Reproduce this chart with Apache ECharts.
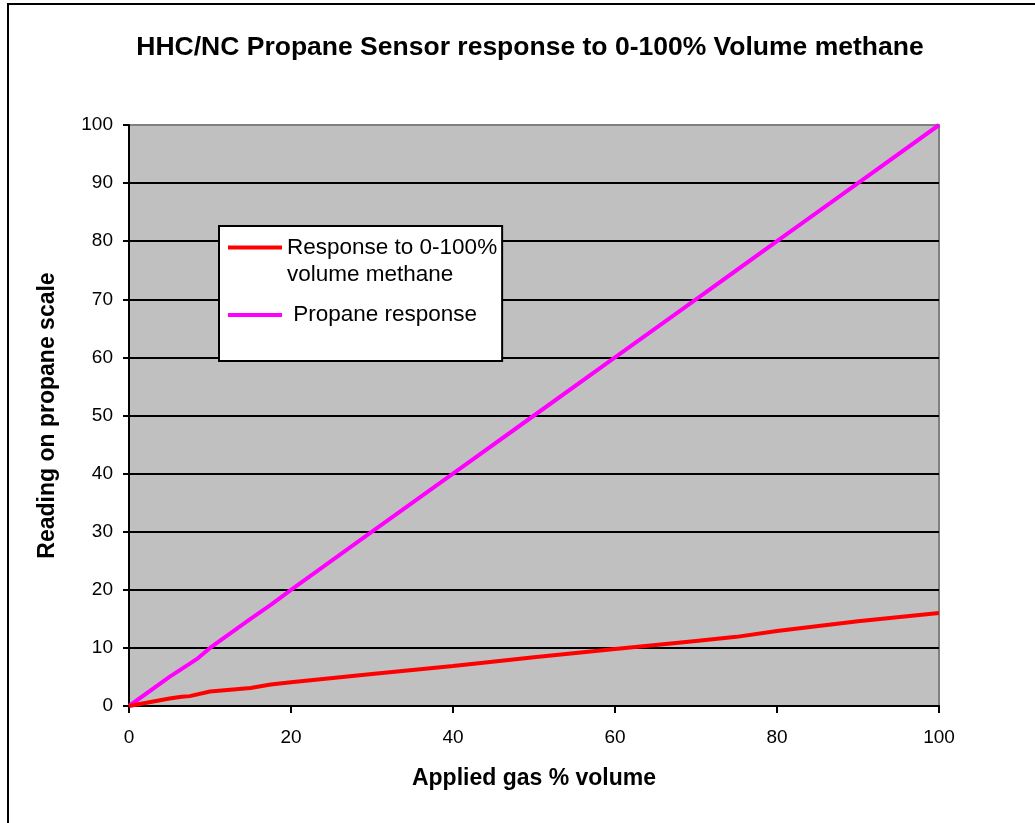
<!DOCTYPE html>
<html>
<head>
<meta charset="utf-8">
<script src="https://cdn.jsdelivr.net/npm/echarts@6/dist/echarts.min.js"></script>
<style>
  html, body { margin: 0; padding: 0; background: #fff; overflow: hidden; width: 1035px; height: 823px; }
  #frame {
    position: absolute; left: 7px; top: 3px; width: 1100px; height: 900px;
    border: 2px solid #000; box-sizing: border-box;
  }
  #chart { position: absolute; left: 0; top: 0; width: 1035px; height: 823px; }
</style>
</head>
<body>
<div id="frame"></div>
<div id="chart"></div>
<script>
// applied gas % volume (x) and readings on the propane scale (y)
const methaneX = [0, 5, 6.5, 7.5, 10, 15, 17.5, 20, 30, 40, 50, 60, 70, 75, 80, 90, 100];
const methaneY = [0, 1.3, 1.6, 1.7, 2.5, 3.1, 3.7, 4.1, 5.5, 6.9, 8.4, 9.8, 11.2, 11.9, 12.9, 14.6, 16.0];
const propaneX = [0, 5, 8.5, 10, 15, 17.5, 20, 30, 40, 50, 60, 70, 75, 80, 90, 100];
const propaneY = [0, 5, 8.2, 10, 15, 17.4, 20, 30, 40, 50, 60, 70, 75, 80, 90, 100];
const xTicks = [0, 20, 40, 60, 80, 100];
const yTicks = [0, 10, 20, 30, 40, 50, 60, 70, 80, 90, 100];

const FONT = "Liberation Sans, Arial, sans-serif";

const pairs = (xs, ys) => xs.map((x, i) => [x, ys[i]]);

// legend icons: a bar inside a taller box so it lines up with the first text line
const iconTop = "path://M0,0H0.01M0,11.5H54V15.5H0ZM0,54H0.01";
const iconMid = "path://M0,0H0.01M0,25H54V29H0ZM0,54H0.01";

const chart = echarts.init(document.getElementById("chart"), null, { renderer: "canvas" });

chart.setOption({
  animation: false,
  backgroundColor: "transparent",
  textStyle: { fontFamily: FONT },
  title: {
    text: "HHC/NC Propane Sensor response to 0-100% Volume methane",
    left: 525,
    textAlign: "center",
    top: 29,
    textStyle: { fontFamily: FONT, fontSize: 26.5, fontWeight: "bold", color: "#000" },
  },
  grid: {
    left: 129,
    right: 96,
    top: 125,
    bottom: 117,
    show: true,
    backgroundColor: "#c0c0c0",
    borderColor: "#808080",
    borderWidth: 2,
  },
  legend: {
    orient: "vertical",
    left: 219,
    top: 226,
    padding: [8, 5, 19, 9],
    itemGap: 0,
    itemWidth: 54,
    itemHeight: 54,
    backgroundColor: "#fff",
    borderColor: "#000",
    borderWidth: 2,
    itemStyle: { borderWidth: 0 },
    textStyle: { fontFamily: FONT, fontSize: 22.5, color: "#000", lineHeight: 27 },
    formatter: (name) => (name === "Propane response" ? " " + name : name),
    data: [
      { name: "Response to 0-100%\nvolume methane", icon: iconTop },
      { name: "Propane response", icon: iconMid },
    ],
  },
  xAxis: {
    type: "value",
    min: 0,
    max: 100,
    interval: 20,
    name: "Applied gas % volume",
    nameLocation: "middle",
    nameGap: 61,
    nameTextStyle: { fontFamily: FONT, fontSize: 23, fontWeight: "bold", color: "#000" },
    axisLine: { show: true, lineStyle: { color: "#000", width: 2 } },
    axisTick: { show: true, length: 7, lineStyle: { color: "#000", width: 2 } },
    axisLabel: {
      margin: 22,
      fontSize: 19,
      color: "#000",
      formatter: (v) => (xTicks.includes(v) ? String(v) : ""),
    },
    splitLine: { show: false },
  },
  yAxis: {
    type: "value",
    min: 0,
    max: 100,
    interval: 10,
    name: "Reading on propane scale",
    nameLocation: "middle",
    nameGap: 70,
    nameTextStyle: { fontFamily: FONT, fontSize: 23, fontWeight: "bold", color: "#000" },
    axisLine: { show: true, lineStyle: { color: "#000", width: 2 } },
    axisTick: { show: true, length: 6, lineStyle: { color: "#000", width: 2 } },
    axisLabel: {
      margin: 16,
      fontSize: 19,
      color: "#000",
      formatter: (v) => (yTicks.includes(v) ? String(v) : ""),
    },
    splitLine: { show: true, showMinLine: false, showMaxLine: false, lineStyle: { color: "#000", width: 2 } },
  },
  series: [
    {
      name: "Response to 0-100%\nvolume methane",
      type: "line",
      data: pairs(methaneX, methaneY),
      showSymbol: false,
      symbol: "none",
      color: "#ff0000",
      lineStyle: { color: "#ff0000", width: 4 },
      z: 3,
    },
    {
      name: "Propane response",
      type: "line",
      data: pairs(propaneX, propaneY),
      showSymbol: false,
      symbol: "none",
      color: "#ff00ff",
      lineStyle: { color: "#ff00ff", width: 4 },
      z: 2,
    },
  ],
});
</script>
</body>
</html>
